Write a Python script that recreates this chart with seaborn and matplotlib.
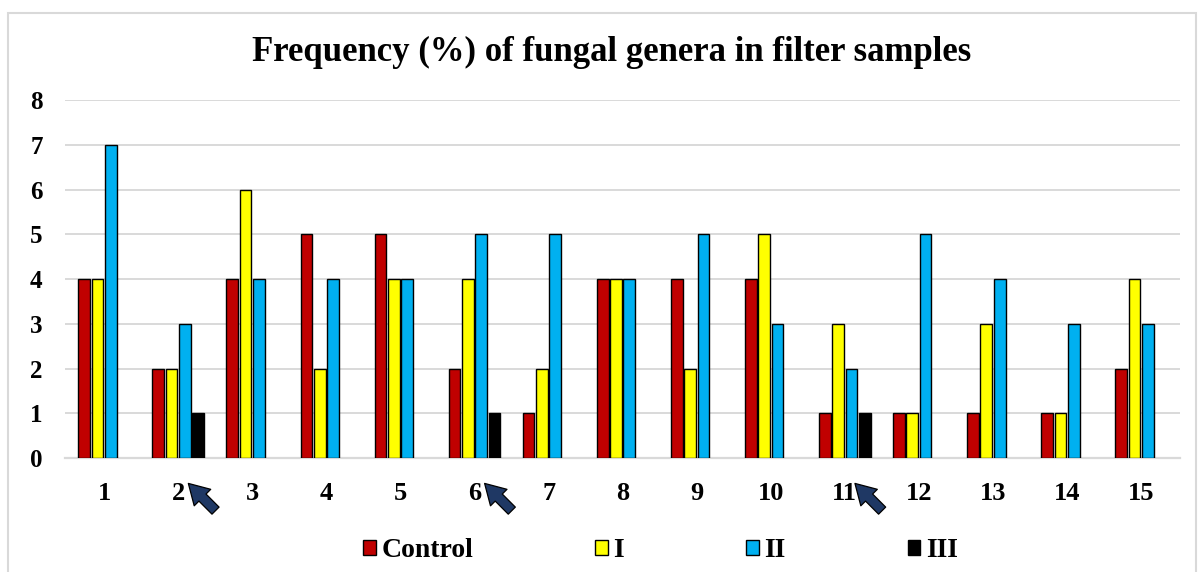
import matplotlib
matplotlib.use("Agg")
import matplotlib.pyplot as plt
import matplotlib.transforms as mtransforms
from matplotlib.patches import Rectangle
import seaborn as sns
import pandas as pd

categories = [str(i) for i in range(1, 16)]
control = [4, 2, 4, 5, 5, 2, 1, 4, 4, 4, 1, 1, 1, 1, 2]
group_i = [4, 2, 6, 2, 4, 4, 2, 4, 2, 5, 3, 1, 3, 1, 4]
group_ii = [7, 3, 4, 4, 4, 5, 5, 4, 5, 3, 2, 5, 4, 3, 3]
group_iii = [0, 1, 0, 0, 0, 1, 0, 0, 0, 0, 1, 0, 0, 0, 0]
groups = ["Control", "I", "II", "III"]
colors = ["#C00000", "#FFFF00", "#00B0F0", "#000000"]
arrow_cats = ["2", "6", "11"]

rows = []
for g, vals in zip(groups, [control, group_i, group_ii, group_iii]):
    for c, v in zip(categories, vals):
        rows.append({"cat": c, "group": g, "value": v})
df = pd.DataFrame(rows)
df_plot = df[df["value"] > 0]

sns.set_style("white")
plt.rcParams["font.family"] = ["Liberation Serif", "DejaVu Serif"]
plt.rcParams["text.color"] = "black"
plt.rcParams["xtick.labelcolor"] = "black"
plt.rcParams["ytick.labelcolor"] = "black"

fig = plt.figure(figsize=(12.02, 5.72), dpi=100)
ax = fig.add_axes([0.054, 0.199, 0.928, 0.626])

sns.barplot(data=df_plot, x="cat", y="value", hue="group", order=categories,
            hue_order=groups, palette=colors, saturation=1, width=0.72, gap=0.12,
            edgecolor="black", linewidth=1.0, errorbar=None, ax=ax, zorder=3)

ax.set_ylim(0, 8)
ax.set_xlim(-0.53, 14.53)
ax.set_yticks(range(0, 9))
ax.yaxis.grid(True, color="#D9D9D9", linewidth=1.4, zorder=0)
ax.set_axisbelow(True)
for s in ["top", "right", "left"]:
    ax.spines[s].set_visible(False)
ax.spines["bottom"].set_color("#D9D9D9")
ax.spines["bottom"].set_linewidth(1.6)
ax.tick_params(axis="both", length=0, colors="black")
ax.tick_params(axis="x", pad=17, labelsize=19)
ax.tick_params(axis="y", pad=16, labelsize=18)
for lab in ax.get_xticklabels() + ax.get_yticklabels():
    lab.set_fontweight("bold")
ax.set_xlabel("")
ax.set_ylabel("")

fig.text(0.509, 0.908, "Frequency (%) of fungal genera in filter samples",
         ha="center", va="center", fontsize=25, fontweight="bold", color="black")

# arrows
trans = mtransforms.blended_transform_factory(ax.transData, ax.transAxes)
for c in arrow_cats:
    xi = categories.index(c)
    ax.annotate("", xy=(xi + 0.11, -0.065), xycoords=trans,
                xytext=(xi + 0.53, -0.152), textcoords=trans,
                arrowprops=dict(arrowstyle="simple,head_length=0.9,head_width=1.05,tail_width=0.45",
                                mutation_scale=16,
                                facecolor="#1F3864", edgecolor="black", linewidth=0.9),
                annotation_clip=False)

handles, labels = ax.get_legend_handles_labels()
leg = ax.legend(handles, labels, loc="center", bbox_to_anchor=(0.534, -0.258), ncol=4,
                frameon=False, prop={"weight": "bold", "size": 20},
                handlelength=0.45, handleheight=0.45, handletextpad=0.2,
                columnspacing=4.4)
for t in leg.get_texts():
    t.set_color("black")

fig.patches.append(Rectangle((0.007, -0.01), 0.988, 0.988, transform=fig.transFigure,
                             fill=False, edgecolor="#D9D9D9", linewidth=1.5))

fig.savefig("out.png", dpi=100)
